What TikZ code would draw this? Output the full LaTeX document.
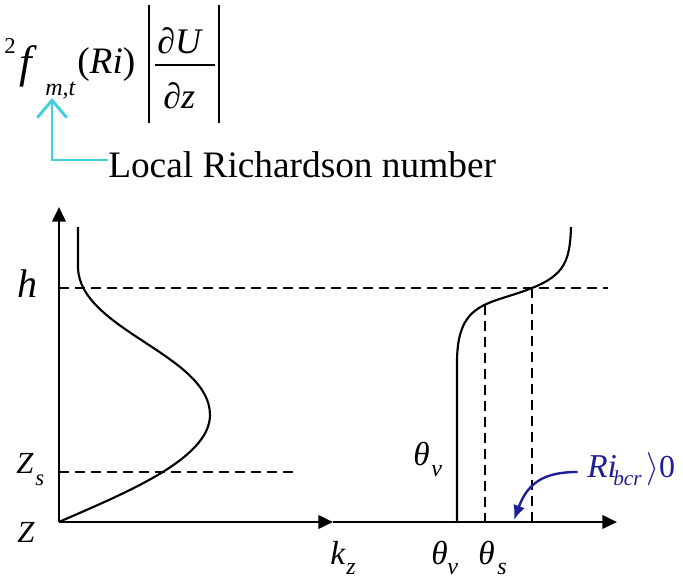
\documentclass[tikz,border=0pt]{standalone}
\usepackage{fontspec}
\setmainfont{Liberation Serif}
\usetikzlibrary{arrows.meta}
\definecolor{riblue}{RGB}{30,30,150}
\definecolor{turq}{RGB}{64,208,216}
\newcommand{\fsz}[1]{\fontsize{#1}{#1}\selectfont}
\tikzset{
  txt/.style={inner sep=0pt, anchor=base west},
  axis/.style={line width=2pt, -{Triangle[length=11pt,width=10pt]}},
  profile/.style={line width=1.6pt},
  guide/.style={line width=1.5pt, dash pattern=on 7.5pt off 4.5pt},
}
\begin{document}
\begin{tikzpicture}[x=0.75pt,y=-0.75pt]
\useasboundingbox (0,0) rectangle (683,578);

\node[txt, font=\fsz{17}] (two) at (4,53) {2};
\node[txt, font=\fsz{34}\itshape] (f) at (19,77) {f};
\node[txt, font=\fsz{18}\itshape] (mt) at (45,95) {m,t};
\node[txt, font=\fsz{28}] (ri) at (77,73) {(\textit{Ri})};
\node[txt, font=\fsz{27}\itshape] (dU) at (157,53) {∂U};
\node[txt, font=\fsz{27}\itshape] (dz) at (163,108) {∂z};
\draw[line width=1.5pt] (149,5) -- (149,123);
\draw[line width=1.5pt] (219,5) -- (219,123);
\draw[line width=1.5pt] (155,65) -- (215,65);

\node[txt, font=\fsz{28}] (local) at (108,177) {Local Richardson number};
\coordinate (bend) at (52,160);
\coordinate (fpoint) at (52,98);
\draw[turq, line width=2.2pt, -{Straight Barb[length=13pt,width=22pt]}] (local.west |- bend) -- (bend) -- (fpoint);

\coordinate (O) at (59,522);
\coordinate (ytop) at (59,207);
\coordinate (kmid) at (333,522);
\coordinate (xend) at (617,522);
\draw[axis] (O) -- (ytop);
\draw[axis] (O) -- (kmid);
\draw[axis] (kmid) -- (xend);

\draw[guide] (59,288) -- (608,288);
\draw[guide] (59,472) -- (297,472);
\draw[guide] (485,305) -- (485,522);
\draw[guide] (532,288) -- (532,522);

\draw[profile] (78,227) -- (78,268) .. controls (80,330) and (210,355) .. (210,415) .. controls (210,460) and (120,495) .. (O);
\draw[profile] (457,522) -- (457,360) .. controls (458,300) and (490,305) .. (532,288) .. controls (565,275) and (570,260) .. (571,227);

\node[txt, font=\fsz{30}\itshape] (h) at (17,297) {h};
\node[txt, font=\fsz{23}\itshape] (zs) at (16,473) {Z};
\node[txt, font=\fsz{17}\itshape] (zssub) at (35,485) {s};
\node[txt, font=\fsz{23}\itshape] (z) at (17,542) {Z};
\node[txt, font=\fsz{25}\itshape] (k) at (330,564) {k};
\node[txt, font=\fsz{18}\itshape] (ksub) at (346,574) {z};
\node[txt, font=\fsz{25}\itshape] (thv) at (431,564) {θ};
\node[txt, font=\fsz{18}\itshape] (thvsub) at (447,574) {v};
\node[txt, font=\fsz{25}\itshape] (ths) at (478,564) {θ};
\node[txt, font=\fsz{18}\itshape] (thssub) at (497,574) {s};
\node[txt, font=\fsz{25}\itshape] (thvup) at (413,465) {θ};
\node[txt, font=\fsz{18}\itshape] (thvupsub) at (431,476) {v};

\node[txt, riblue, font=\fsz{25}\itshape] (rib) at (587,477) {Ri};
\node[txt, riblue, font=\fsz{16}\itshape] (bcr) at (613,485) {bcr};
\node[txt, riblue, font=\fsz{24}] (gt) at (646,477) {$\rangle$0};
\coordinate (ritip) at (514,520);
\draw[riblue, line width=1.8pt, -{Latex[length=11pt,width=9pt]}] ([xshift=-7pt,yshift=-4.5pt]rib.west) .. controls (545,472) and (528,482) .. (ritip);
\end{tikzpicture}
\end{document}
